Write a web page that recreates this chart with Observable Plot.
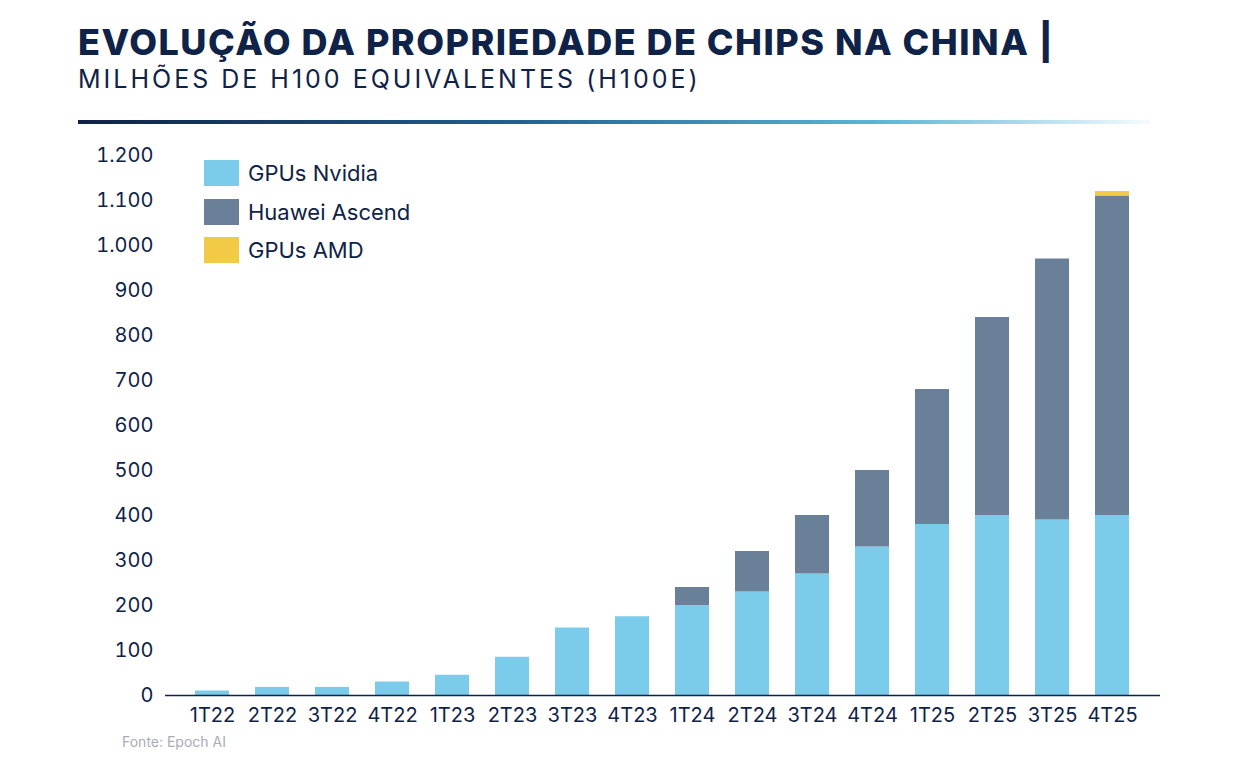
<!DOCTYPE html>
<html><head><meta charset="utf-8">
<script src="https://cdn.jsdelivr.net/npm/d3@7"></script>
<script src="https://cdn.jsdelivr.net/npm/@observablehq/plot@0.6"></script>
<style>
body{margin:0;background:#fff;font-family:Inter,"Noto Sans",sans-serif;color:#0f2248;}
#wrap{position:relative;width:1240px;height:762px;}
#title{position:absolute;left:78px;top:20px;font-size:36px;font-weight:800;letter-spacing:1.5px;color:#0f2248;}
#sub{position:absolute;left:78px;top:64px;font-size:25px;font-weight:400;letter-spacing:3px;color:#0f2248;}
#rule{position:absolute;left:78px;top:120px;width:1072px;height:4px;background:linear-gradient(90deg,#0f2248 0%,#1f5f8f 40%,#5ab7d8 75%,rgba(160,220,240,0.1) 100%);}
#chart{position:absolute;left:0;top:140px;}
#legend{position:absolute;left:204px;top:154px;font-size:22px;color:#0f2248;}
.li{display:flex;align-items:center;height:38.5px;}
.sw{width:35px;height:26px;margin-right:9px;}
#src{position:absolute;left:122px;top:733px;font-size:14px;color:#a8adb5;}
</style></head><body>
<div id="wrap">
<div id="title">EVOLUÇÃO DA PROPRIEDADE DE CHIPS NA CHINA |</div>
<div id="sub">MILHÕES DE H100 EQUIVALENTES (H100E)</div>
<div id="rule"></div>
<div id="chart"></div>
<div id="legend"></div>
<div id="src">Fonte: Epoch AI</div>
</div>
<script>
const quarters = ["1T22","2T22","3T22","4T22","1T23","2T23","3T23","4T23","1T24","2T24","3T24","4T24","1T25","2T25","3T25","4T25"];
const nvidia = [10,18,18,30,45,85,150,175,200,230,270,330,380,400,390,400];
const huawei = [0,0,0,0,0,0,0,0,40,90,130,170,300,440,580,710];
const amd = [0,0,0,0,0,0,0,0,0,0,0,0,0,0,0,10];
const seriesNames = ["GPUs Nvidia","Huawei Ascend","GPUs AMD"];
const colors = ["#7accea","#6a7f98","#f3ca45"];
const yTicks = [0,100,200,300,400,500,600,700,800,900,1000,1100,1200];

const rows = [];
quarters.forEach((q,i)=>{
  rows.push({q,s:seriesNames[0],v:nvidia[i]});
  rows.push({q,s:seriesNames[1],v:huawei[i]});
  rows.push({q,s:seriesNames[2],v:amd[i]});
});
const fmt = d3.formatLocale({thousands:".",grouping:[3],decimal:",",currency:["",""]}).format(",");
const plot = Plot.plot({
  width:1240,height:600,marginLeft:165,marginRight:80,marginTop:15,marginBottom:45,
  style:{fontFamily:"Inter, 'Noto Sans', sans-serif",fontSize:"20px",color:"#0f2248",background:"transparent"},
  x:{domain:quarters,padding:0.43,label:null,tickSize:0,tickPadding:12},
  y:{domain:[0,1200],ticks:yTicks,tickFormat:fmt,label:null,tickSize:0,tickPadding:12},
  color:{domain:seriesNames,range:colors},
  marks:[
    Plot.barY(rows,{x:"q",y:"v",fill:"s",order:seriesNames}),
    Plot.ruleY([0],{stroke:"#0f2248",strokeWidth:1.5})
  ]
});
plot.querySelectorAll("text").forEach(t=>t.setAttribute("fill","#0f2248"));
document.getElementById("chart").appendChild(plot);
const lg=document.getElementById("legend");
seriesNames.forEach((n,i)=>{
  const d=document.createElement("div");d.className="li";
  d.innerHTML=`<div class="sw" style="background:${colors[i]}"></div><span>${n}</span>`;
  lg.appendChild(d);
});
</script>
</body></html>
